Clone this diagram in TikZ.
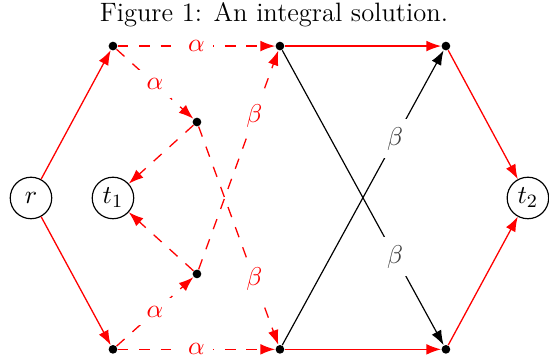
\documentclass[tikz,border=0pt]{standalone}
\usepackage{xcolor}
\usetikzlibrary{arrows.meta}
\tikzset{
  font=\fontsize{11.3pt}{13.6pt}\selectfont,
  >={Latex[length=2.2mm,width=1.6mm]},
  term/.style={circle, draw=black, line width=0.5pt, minimum size=6.2mm, inner sep=1pt},
  dot/.style={circle, fill=black, inner sep=0pt, minimum size=1.3mm},
  flow/.style={->, line width=0.55pt, draw=red},
  dashflow/.style={->, line width=0.55pt, draw=red, dash pattern=on 1.6mm off 1.6mm},
  blackflow/.style={->, line width=0.5pt, draw=black},
  tag/.style={fill=white, inner sep=3.5pt, text=red},
  blacktag/.style={fill=white, inner sep=3.5pt, text=black!75}
}

\begin{document}
\begin{tikzpicture}[x=1cm,y=1cm]
  \useasboundingbox (-0.463,-2.42) rectangle (7.74,2.958);
  \node (cap) at (3.63,2.734) {Figure 1: An integral solution.};

  % terminals
  \node[term] (r)  at (0,0)     {$r$};
  \node[term] (t1) at (1.225,0) {$t_1$};
  \node[term] (t2) at (7.425,0) {$t_2$};

  % points
  \node[dot] (a) at (1.225,2.27)  {};
  \node[dot] (b) at (3.72,2.27)   {};
  \node[dot] (c) at (6.20,2.27)   {};
  \node[dot] (d) at (1.225,-2.262) {};
  \node[dot] (e) at (3.72,-2.262)  {};
  \node[dot] (f) at (6.20,-2.262)  {};
  \node[dot] (g) at (2.48,1.135)  {};
  \node[dot] (h) at (2.48,-1.135) {};

  \draw[flow] (r) -- (a);
  \draw[flow] (r) -- (d);

  \draw[dashflow] (a) -- (b) node[tag,midway]{$\alpha$};
  \draw[dashflow] (a) -- (g) node[tag,midway]{$\alpha$};
  \draw[dashflow] (d) -- (e) node[tag,midway]{$\alpha$};
  \draw[dashflow] (d) -- (h) node[tag,midway]{$\alpha$};
  \draw[dashflow] (g) -- (t1);
  \draw[dashflow] (h) -- (t1);
  \draw[dashflow] (g) -- (e) node[tag,pos=0.7]{$\beta$};
  \draw[dashflow] (h) -- (b) node[tag,pos=0.7]{$\beta$};

  \draw[flow] (b) -- (c);
  \draw[flow] (e) -- (f);
  \draw[flow] (c) -- (t2);
  \draw[flow] (f) -- (t2);

  \draw[blackflow] (b) -- (f) node[blacktag,pos=0.7]{$\beta$};
  \draw[blackflow] (e) -- (c) node[blacktag,pos=0.7]{$\beta$};
\end{tikzpicture}
\end{document}
